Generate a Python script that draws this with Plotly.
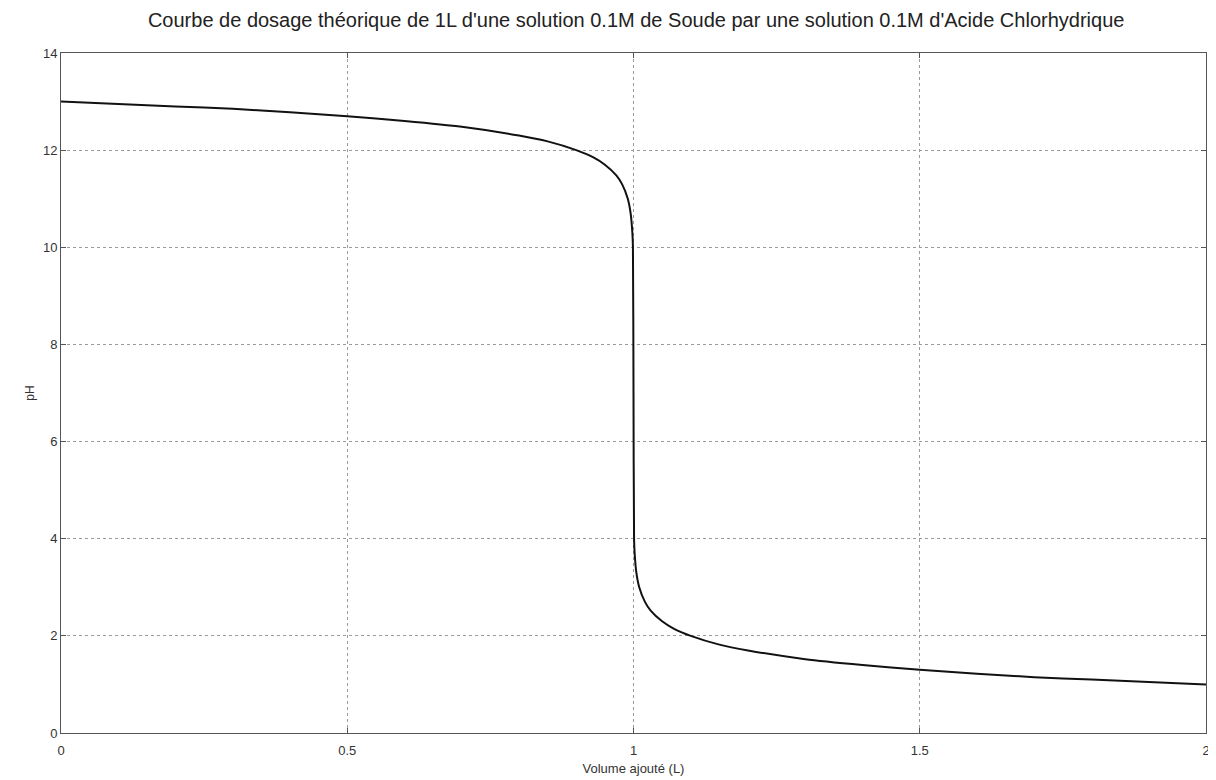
import plotly.graph_objects as go

volume = [0.0, 0.1, 0.2, 0.3, 0.4, 0.5, 0.6, 0.7, 0.8, 0.85, 0.9, 0.93, 0.95,
          0.97, 0.98, 0.99, 0.995, 0.998, 0.999, 1.0, 1.001, 1.002, 1.005,
          1.01, 1.02, 1.03, 1.05, 1.07, 1.1, 1.15, 1.2, 1.3, 1.4, 1.5, 1.6,
          1.7, 1.8, 1.9, 2.0]
ph = [13.0, 12.95, 12.90, 12.85, 12.78, 12.70, 12.60, 12.48, 12.30, 12.18,
      12.0, 11.85, 11.70, 11.48, 11.30, 11.0, 10.7, 10.3, 10.0, 7.0, 4.0,
      3.7, 3.3, 3.0, 2.7, 2.52, 2.3, 2.15, 2.0, 1.82, 1.70, 1.52, 1.40,
      1.30, 1.22, 1.15, 1.10, 1.05, 1.0]

x_ticks = [0, 0.5, 1, 1.5, 2]
x_tick_labels = ["0", "0.5", "1", "1.5", "2"]
y_ticks = [0, 2, 4, 6, 8, 10, 12, 14]

title_text = "Courbe de dosage théorique de 1L d'une solution 0.1M de Soude par une solution 0.1M d'Acide Chlorhydrique"

FONT = "Liberation Sans, Arial, sans-serif"

fig = go.Figure()
fig.add_trace(go.Scatter(x=volume, y=ph, mode="lines",
                         line=dict(color="#111111", width=2, shape="spline", smoothing=0.6),
                         showlegend=False))

axis_common = dict(
    showline=True, linecolor="#555555", linewidth=1, mirror="allticks",
    ticks="inside", ticklen=5, tickcolor="#555555",
    showgrid=True, gridcolor="#9a9a9a", griddash="dot", gridwidth=1,
    zeroline=False, ticklabeloverflow="allow",
    tickfont=dict(family=FONT, size=13, color="#333333"),
)

fig.update_layout(
    width=1208, height=772,
    paper_bgcolor="white", plot_bgcolor="white",
    margin=dict(l=53, r=6, t=45, b=45),
    title=dict(text=title_text, x=0.52, xanchor="center", y=0.984, yanchor="middle",
               font=dict(family=FONT, size=20, color="#222222")),
    xaxis=dict(range=[0, 2], tickvals=x_ticks, ticktext=x_tick_labels,
               ticklabelstandoff=5,
               title=dict(text="Volume ajouté (L)", standoff=7,
                          font=dict(family=FONT, size=13, color="#333333")),
               **axis_common),
    yaxis=dict(range=[0, 14], tickvals=y_ticks,
               title=dict(text="pH", standoff=5,
                          font=dict(family=FONT, size=12, color="#333333")),
               **axis_common),
)

fig.write_html("out.html")
